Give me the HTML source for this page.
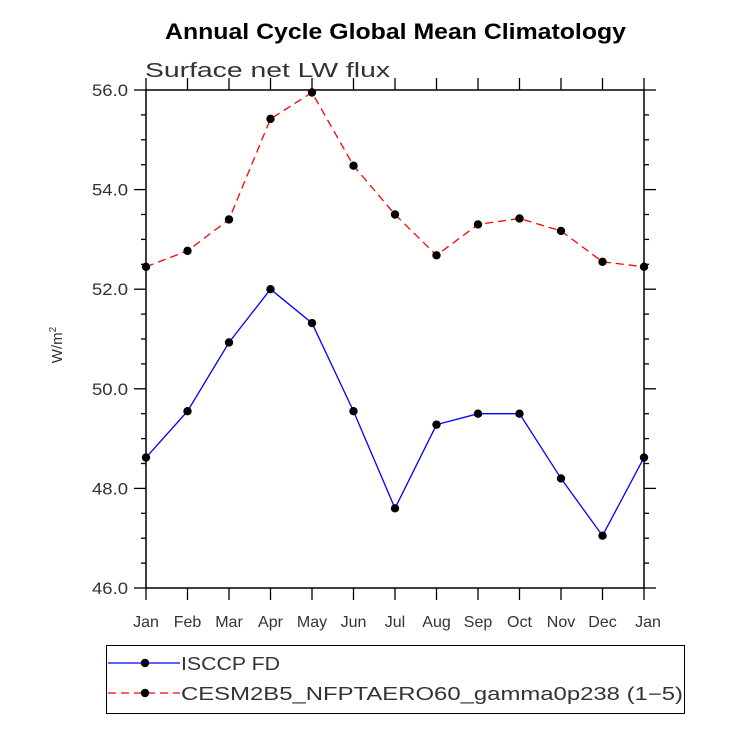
<!DOCTYPE html>
<html><head><meta charset="utf-8"><style>
body{margin:0;background:#fff;}
svg{font-family:"Liberation Sans",sans-serif;}
</style></head><body>
<svg width="732" height="732" viewBox="0 0 732 732">
<text x="165" y="39" textLength="461" lengthAdjust="spacingAndGlyphs" font-size="22" font-weight="bold">Annual Cycle Global Mean Climatology</text>
<text x="145" y="77" textLength="245" lengthAdjust="spacingAndGlyphs" font-size="20" fill="#333">Surface net LW flux</text>
<text transform="translate(62,345) rotate(-90)" text-anchor="middle" font-size="15" fill="#333">W/m<tspan dy="-6" font-size="10">2</tspan></text>
<g id="axes"></g>
<g id="series"></g>
<g>
<rect x="106.5" y="645.5" width="578" height="68" fill="none" stroke="#000" stroke-width="1"/>
<line x1="108" y1="663" x2="180" y2="663" stroke="#00f" stroke-width="1.3"/>
<circle cx="145" cy="663" r="4.2" fill="#000"/>
<text x="181" y="670" textLength="99" lengthAdjust="spacingAndGlyphs" font-size="18" fill="#333">ISCCP FD</text>
<line x1="108" y1="693" x2="180" y2="693" stroke="#f00" stroke-width="1.3" stroke-dasharray="8,5"/>
<circle cx="145" cy="693" r="4.2" fill="#000"/>
<text x="181" y="700" textLength="502" lengthAdjust="spacingAndGlyphs" font-size="18" fill="#333">CESM2B5_NFPTAERO60_gamma0p238 (1−5)</text>
</g>
</svg>
<script>
const months=["Jan","Feb","Mar","Apr","May","Jun","Jul","Aug","Sep","Oct","Nov","Dec","Jan"];
const isccp=[48.62,49.55,50.93,52.0,51.32,49.55,47.6,49.28,49.5,49.5,48.2,47.05,48.62];
const cesm=[52.45,52.77,53.4,55.42,55.95,54.48,53.5,52.68,53.3,53.42,53.17,52.55,52.45];
const yTicks=[46,48,50,52,54,56];
const yMin=46,yMax=56;
const X0=146,X1=644,Y0=588,Y1=90;
const xs=i=>X0+(X1-X0)*i/12;
const ys=v=>Y0-(Y0-Y1)*(v-yMin)/(yMax-yMin);
const NS="http://www.w3.org/2000/svg";
function mk(tag,attrs,parent){const e=document.createElementNS(NS,tag);for(const k in attrs)e.setAttribute(k,attrs[k]);parent.appendChild(e);return e;}
const ax=document.getElementById('axes');
const frame=mk('rect',{x:X0,y:Y1,width:X1-X0,height:Y0-Y1,fill:'none',stroke:'#000','stroke-width':1.5},ax);


for(let v=yMin;v<=yMax+1e-9;v+=0.5){
  const major=Math.abs(v/2-Math.round(v/2))<1e-9;const L=major?12:5;const y=ys(v);
  mk('line',{x1:X0-L,y1:y,x2:X0,y2:y,stroke:'#000','stroke-width':1.3},ax);
  mk('line',{x1:X1,y1:y,x2:X1+L,y2:y,stroke:'#000','stroke-width':1.3},ax);
}
yTicks.forEach(v=>{const t=mk('text',{x:X0-18,y:ys(v)+6,'text-anchor':'end','font-size':17,fill:'#333',textLength:36,lengthAdjust:'spacingAndGlyphs'},ax);t.textContent=v.toFixed(1);

});
months.forEach((m,i)=>{const x=xs(i);
  mk('line',{x1:x,y1:Y0,x2:x,y2:Y0+12,stroke:'#000','stroke-width':1.3},ax);
  mk('line',{x1:x,y1:Y1-12,x2:x,y2:Y1,stroke:'#000','stroke-width':1.3},ax);
  const t=mk('text',{x:x+(i==12?4:0),y:627,'text-anchor':'middle','font-size':16,fill:'#333'},ax);t.textContent=m;
  
  });
const sg=document.getElementById('series');
function series(vals,color,dash,name){
  const p=mk('polyline',{points:vals.map((v,i)=>xs(i)+','+ys(v)).join(' '),fill:'none',stroke:color,'stroke-width':1.3,'stroke-dasharray':dash},sg);
  
  
  vals.forEach((v,i)=>{const c=mk('circle',{cx:xs(i),cy:ys(v),r:4.2,fill:'#000'},sg);
    
    });
}
series(cesm,'#f00','8,5','cesm');
series(isccp,'#00f','none','isccp');
</script>
</body></html>
